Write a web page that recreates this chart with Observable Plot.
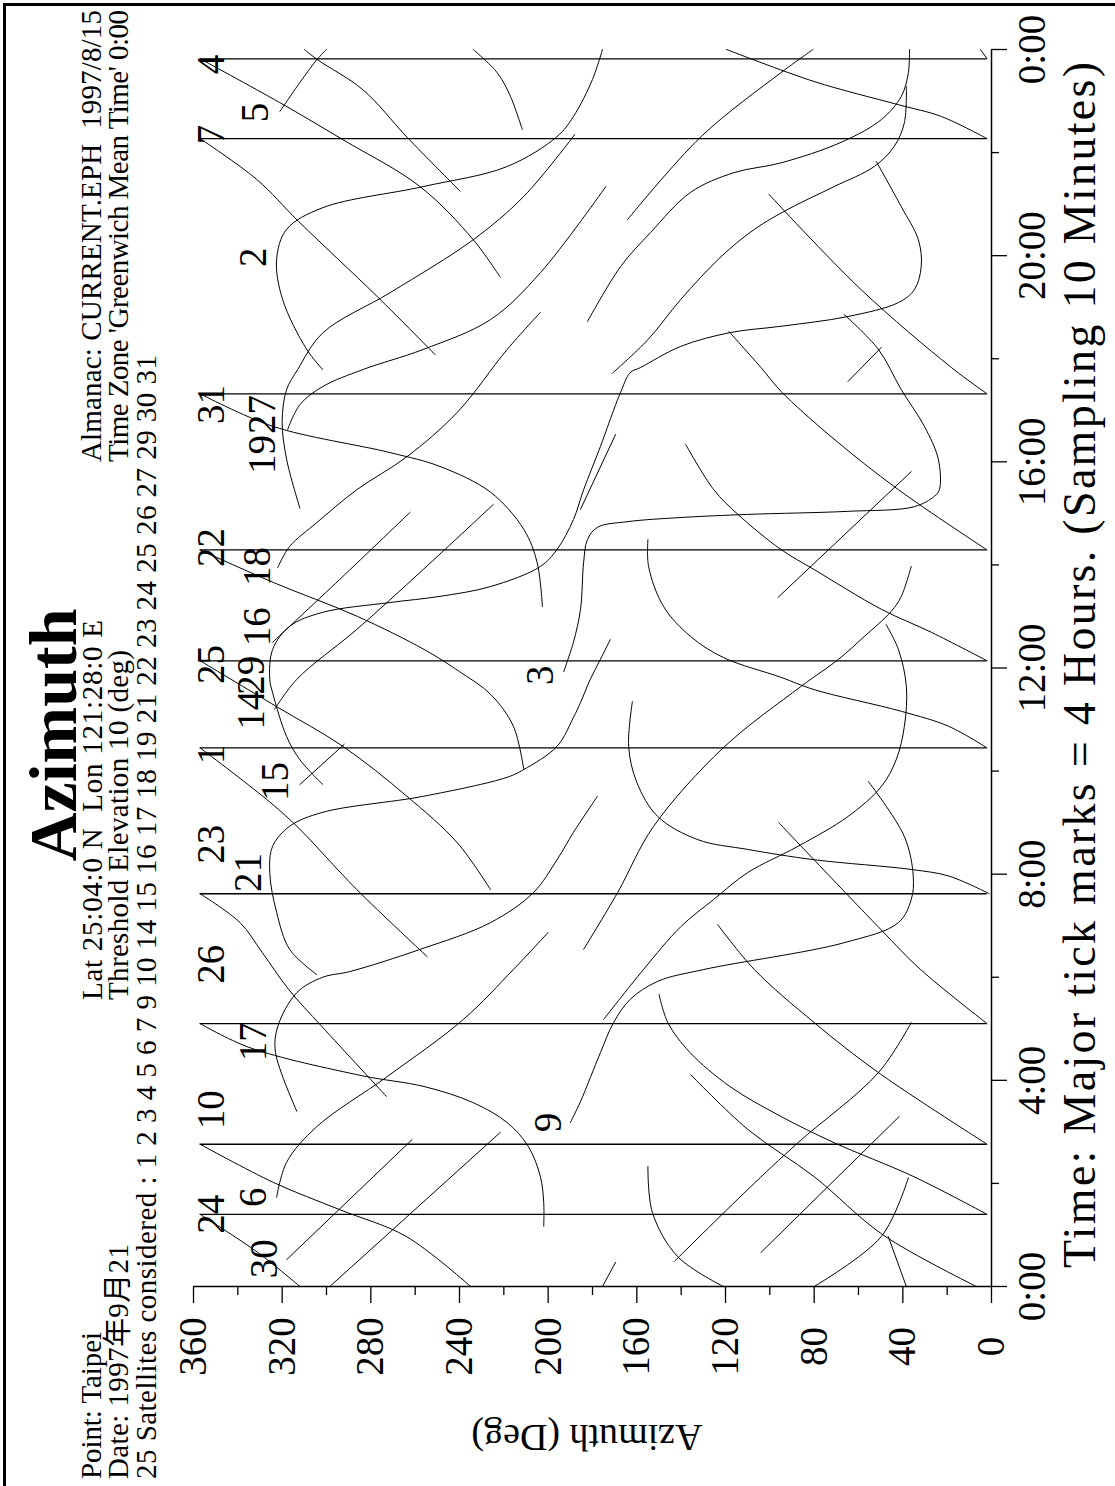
<!DOCTYPE html>
<html><head><meta charset="utf-8">
<script src="https://cdn.jsdelivr.net/npm/d3@7"></script>
<script src="https://cdn.jsdelivr.net/npm/@observablehq/plot@0.6"></script>
<style>
html,body{margin:0;padding:0;background:#fff;}
#page{position:relative;width:1115px;height:1486px;overflow:hidden;background:#fff;}
#land{position:absolute;left:0;top:0;width:1486px;height:1115px;transform-origin:0 0;transform:translate(0px,1486px) rotate(-90deg);}
#land svg{position:absolute;left:0;top:0;}
.bl{position:absolute;background:#000;}
</style></head><body>
<div id="page"><div id="land"></div>
<div class="bl" style="left:3px;top:3px;width:3px;height:1483px"></div>
<div class="bl" style="left:3px;top:3px;width:1112px;height:3px"></div>
</div>
<script>
// ---- axis ticks ----
const timeMajor = [0, 4, 8, 12, 16, 20, 24];
const timeMinor = [2, 6, 10, 14, 18, 22];
const azMajor = [0, 40, 80, 120, 160, 200, 240, 280, 320, 360];
const azMinor = [20, 60, 100, 140, 180, 220, 260, 300, 340];

// ---- wrap-around jumps (360 -> 0) ----
const wrapTimes = [1.40, 2.76, 5.10, 7.62, 10.45, 12.14, 14.29, 17.32, 22.27, 23.82];
const wrapAz = [357, 2];

// ---- satellite tracks: [time (h), azimuth (deg)] ----
const sat24a = [[0,312],[0.66,331],[1.40,357]];
const sat24b = [[1.40,2],[2.13,35],[2.79,71],[3.30,95],[3.88,118],[4.54,136],[5.12,146],[5.67,150]];
const sat10a = [[0,235],[0.97,264],[1.49,294],[2.02,324],[2.76,357]];
const sat10b = [[2.76,2],[4.15,51],[5.12,80],[6.15,107],[7.02,123.5]];
const sat26a = [[1.17,202],[1.63,202],[2.13,203.5],[2.72,209],[3.18,218.5],[3.57,234],[3.88,256],[4.09,284],[4.64,335],[5.10,357]];
const sat26b = [[5.10,2],[6.15,32],[6.93,50],[9.0,96]];
const sat23a = [[3.69,273],[5.04,302],[5.76,317],[6.48,329],[7.06,339],[7.62,357]];
const sat23b = [[7.62,1],[7.96,19],[8.09,36],[8.28,80],[8.48,110],[8.67,132.5],[9.12,150.6],[9.78,160],[10.48,163.7],[11.35,162]];
const sat1a = [[6.4,254.6],[7.7,286.3],[8.93,313.4],[9.45,327],[10.45,357]];
const sat1b = [[10.45,2],[10.87,19.4],[11.16,40.7],[11.58,80],[11.82,95],[12.2,120.8],[12.61,135.7],[13.19,147.9],[13.97,154.7],[14.49,155]];
const sat25a = [[7.7,226],[8.61,241],[9.51,263.7],[10.48,292.6],[11.25,322.5],[12.14,357]];
const sat25b = [[12.14,2],[12.69,27],[13.14,49.7],[13.91,80],[14.3,95],[14.98,114.4],[15.46,125.3],[16.34,138]];
const sat22a = [[10.03,211],[10.87,215.7],[11.49,226],[11.93,240],[12.36,256],[13.0,286],[13.66,324],[14.29,357]];
const sat22b = [[14.29,2],[15.46,42],[16.49,72.4],[17.37,95],[17.83,104],[18.53,118.5]];
const sat31a = [[13.19,202.6],[14.05,205],[14.69,211],[15.41,226],[15.91,248.8],[16.18,271.4],[16.69,324.3],[17.32,357]];
const sat31b = [[17.32,2],[17.83,18.1],[19.34,58.8],[21.19,100.4]];
const sat7a = [[18.08,251],[19.21,277.2],[20.66,312.5],[21.48,331.5],[22.27,357]];
const sat7b = [[22.27,2],[22.70,22.6],[22.93,42.1],[23.38,80.1],[24.0,119.5]];
const sat4a = [[19.58,221.6],[20.31,233.8],[21.34,257.8],[22.25,292.6],[22.97,321.1],[23.82,357]];
const sat4b = [[23.82,2],[24.0,5]];

const sat5 = [[22.8,321],[23.36,312],[23.8,304.4],[24.0,300]];
const trackA = [[21.25,239.7],[22.3,263.7],[23.22,283.6],[23.8,304],[24.0,310]];
const trackB = [[22.45,211.7],[23.09,217],[23.55,223],[24.0,233.8]];
const sat2 = [[17.79,301.7],[18.18,308.9],[19.15,319.8],[19.93,322.5],[20.51,318],[20.93,301.7],[21.34,256.4],[21.73,218.5],[22.31,196],[22.7,188.6],[23.42,180],[24.0,175.5]];
const sat19 = [[15.1,312],[16.05,318],[16.78,320],[17.4,318],[17.79,313],[18.5,301.7],[19.29,271],[20.31,233.8],[21.15,211],[22.35,188]];
const sat27 = [[16.63,317.5],[17.11,312],[17.46,301.7],[17.79,283.6],[18.18,256.4],[18.76,226],[19.67,203.5],[21.34,174]];
const trackC = [[18.72,182.3],[19.79,167.3],[20.45,153.8],[21.23,135.7],[21.61,116.2],[21.8,95],[22.2,67.8],[22.64,49.7],[23.09,40.7],[23.55,37.5],[24.0,37]];
const trackD = [[20.7,164.2],[22.31,131],[23.55,95],[24.0,80.5]];
const trackE = [[17.72,171],[18.37,155],[19.15,140.2],[19.98,122],[20.51,107],[20.9,91.8],[21.34,71],[21.73,52.9],[22.12,43.9],[22.58,39.3],[23.28,38.4]];
const sat16 = [[9.74,301.7],[10.22,312],[10.67,318],[11.52,324.3],[11.78,325.6],[12.36,324.3],[12.81,316.6],[13.08,301.7],[13.27,271.4],[13.39,248.8],[13.58,226],[13.97,203.5],[14.3,196],[14.88,188.6],[15.46,184],[16.3,176.4],[17.0,170.5],[17.35,167.3],[17.73,163],[17.83,158.3],[18.24,140.2],[18.51,117.6],[18.63,95],[18.82,64.7],[19.09,42],[19.34,34.8],[19.79,31.7],[20.31,33],[20.95,40.7],[21.83,52]];
const trackF = [[15.08,185.4],[16.53,169.6]];
const sat3 = [[11.93,193],[12.5,188.6],[13.14,185.4],[14.05,184],[14.49,182.3],[14.73,177.7],[14.84,164],[14.92,140],[14.98,110],[15.04,64.7],[15.13,34.8],[15.33,25.8],[15.46,23.5],[16.05,24],[16.69,30.3],[17.4,40.7],[18.18,51],[18.86,66.5]];
const trackG = [[17.56,64.7],[18.22,49.7]];
const trackH = [[13.37,96.3],[15.81,36.2]];
const trackI = [[6.54,184],[7.64,168.7],[8.93,152.4],[10.46,120.8],[11.64,86],[12.17,69],[12.61,57.4],[13.1,45.2],[13.39,40.7],[13.97,36.2]];
const trackJ = [[5.18,175],[6.15,157],[6.98,140.2],[7.51,125.3],[8.03,110],[8.54,87.3],[9.12,64.7],[9.7,49.7],[10.22,43],[10.87,39.3],[11.64,38.4],[12.36,42],[12.84,47.5]];
const sat21 = [[6.05,304.4],[6.54,316.6],[7.26,322.5],[8.03,325.6],[8.54,324.3],[8.93,316.6],[9.2,301.7],[9.51,256.4],[9.88,218.5],[10.03,211],[10.48,196],[11.04,188.6],[11.33,185.4],[11.78,181],[12.17,176.4],[12.55,172]];
const sat17 = [[3.4,313.4],[4.54,323],[5.04,322],[5.7,313.4],[6.0,301.7],[6.11,289.5],[6.54,257.8],[7.06,226],[7.64,206.7],[8.28,196],[8.81,188.6],[9.51,177.8]];
const sat9 = [[3.18,190],[3.59,185.4],[4.54,176.4],[5.12,170.5],[5.57,163],[5.92,150.6],[6.15,129.8],[6.67,66.5],[7.06,42],[7.51,36.2],[7.96,35.3],[8.73,39.3],[9.8,55.6]];
const sat6 = [[1.73,322.5],[2.41,318],[3.1,304.4],[4.07,272.7],[5.18,238.3],[6.15,215.7],[6.87,200]];
const sat15 = [[9.74,312],[10.52,292]];
const sat14 = [[12.5,324.3],[13.72,294],[15.02,262.3]];
const sat29 = [[11.2,323.4],[11.78,313.4],[12.75,286.3],[13.91,256.4],[15.17,224.8]];
const sat18 = [[13.95,322],[14.36,316.6],[14.82,304.4],[15.46,286.3],[16.1,263.7],[16.96,241],[18.18,218.5],[18.9,203.5]];
const trackK = [[0,6.8],[1.0,48.9],[2.13,80],[3.05,110],[4.11,135.7]];
const trackL = [[0.66,104],[3.3,41.6]];
const trackM = [[0.49,143],[1.88,110],[2.79,87.3],[4.15,51],[5.12,36.2]];
const trackN = [[0,121],[0.58,141.6],[1.44,153],[2.33,155]];
const trackO = [[0,80],[0.97,49.7],[2.11,37.5]];
const trackP = [[0,38.4],[0.97,46.6]];
const trackQ = [[0,175.5],[0.47,169.6]];
const sat30 = [[0.52,318],[2.85,261.4]];
const trackR = [[0,298.5],[2.99,221.6]];

// ---- satellite number labels ----
const labelIds = ["30","24","6","10","9","17","26","23","21","15","1","14","29","25","3","16","18","22","19","27","31","2","7","5","4"];
const labelT  = [0.54,1.40,1.73,3.43,3.18,4.75,6.25,8.58,8.03,9.80,10.32,11.18,11.86,12.07,11.86,12.80,13.97,14.34,16.14,16.92,17.11,19.97,22.35,22.78,23.71];
const labelAz = [328,352,333,352,200,333,352,352,335,323,352,334,334,352,203.5,331,331,352,329,329,352,333,352,332,352];

const tracks = {sat24a,sat24b,sat10a,sat10b,sat26a,sat26b,sat23a,sat23b,sat1a,sat1b,sat25a,sat25b,sat22a,sat22b,sat31a,sat31b,sat7a,sat7b,sat4a,sat4b,
  sat5,trackA,trackB,sat2,sat19,sat27,trackC,trackD,trackE,sat16,trackF,sat3,trackG,trackH,trackI,trackJ,sat21,sat17,sat9,sat6,sat15,sat14,sat29,sat18,
  trackK,trackL,trackM,trackN,trackO,trackP,trackQ,sat30,trackR};
const pts = [];
for (const [id, arr] of Object.entries(tracks)) for (const [t, az] of arr) pts.push({id, t, az});
const labels = labelIds.map((id, i) => ({id, t: labelT[i], az: labelAz[i]}));

const serif = "'Liberation Serif', 'Times New Roman', 'Noto Sans CJK SC', serif";
const fmtTime = d => `${d % 24}:00`;

const plot = Plot.plot({
  width: 1486, height: 1115,
  marginLeft: 199, marginRight: 50, marginTop: 193, marginBottom: 124,
  x: {domain: [0, 24], axis: null},
  y: {domain: [0, 360], axis: null},
  style: {fontFamily: serif, background: "transparent", overflow: "visible", color: "#000"},
  marks: [
    Plot.ruleY([0], {stroke: "#000", strokeWidth: 1.5}),
    Plot.ruleX([0], {stroke: "#000", strokeWidth: 1.5}),
    Plot.ruleX(timeMajor, {x: d => d, y1: () => 0, y2: () => 0, insetBottom: -16, stroke: "#000", strokeWidth: 1.3}),
    Plot.ruleX(timeMinor, {x: d => d, y1: () => 0, y2: () => 0, insetBottom: -8, stroke: "#000", strokeWidth: 1.3}),
    Plot.ruleY(azMajor, {y: d => d, x1: () => 0, x2: () => 0, insetLeft: -16, stroke: "#000", strokeWidth: 1.3}),
    Plot.ruleY(azMinor, {y: d => d, x1: () => 0, x2: () => 0, insetLeft: -8, stroke: "#000", strokeWidth: 1.3}),
    Plot.text(timeMajor, {x: d => d, y: () => 0, text: fmtTime, dy: 41, fontSize: 39, fontFamily: serif, fill: "#000"}),
    Plot.text(azMajor, {x: () => 0, y: d => d, text: d => String(d), dx: -60, textAnchor: "middle", fontSize: 39, fontFamily: serif, fill: "#000"}),
    Plot.ruleX(wrapTimes, {x: d => d, y1: () => wrapAz[0], y2: () => wrapAz[1], stroke: "#000", strokeWidth: 1.3}),
    Plot.line(pts, {x: "t", y: "az", z: "id", curve: "catmull-rom", stroke: "#000", strokeWidth: 1}),
    Plot.text(labels, {x: "t", y: "az", text: "id", fontSize: 39, fontFamily: serif, fill: "#000"})
  ]
});
const land = document.getElementById("land");
land.appendChild(plot);

// ---- header / footer texts (landscape coordinates) ----
const texts = [
  {s: "Azimuth", x: 751, y: 76, size: 68, weight: "bold", anchor: "middle"},
  {s: "Point: Taipei", x: 7, y: 101, size: 29, len: 147},
  {s: "Date: 1997年9月21", x: 7, y: 128, size: 29, len: 235},
  {s: "25 Satellites considered : 1 2 3 4 5 6 7 9 10 14 15 16 17 18 19 21 22 23 24 25 26 27 29 30 31", x: 7, y: 156, size: 29, len: 1124},
  {s: "Lat 25:04:0 N  Lon 121:28:0 E", x: 486, y: 102, size: 29, len: 380},
  {s: "Threshold Elevation 10 (deg)", x: 486, y: 128, size: 29, len: 350},
  {s: "Almanac: CURRENT.EPH  1997/8/15", x: 1024, y: 101, size: 29, len: 452},
  {s: "Time Zone 'Greenwich Mean Time' 0:00", x: 1024, y: 128, size: 29, len: 452},
  {s: "Time: Major tick marks = 4 Hours. (Sampling 10 Minutes)", x: 218, y: 1095, size: 46, len: 1206}
];
const svg = d3.select(land).append("svg").attr("width", 1486).attr("height", 1115)
  .style("font-family", serif).style("pointer-events", "none");
const tx = svg.selectAll("text.h").data(texts).join("text").attr("class", "h")
  .attr("x", d => d.x).attr("y", d => d.y)
  .attr("font-size", d => d.size).attr("font-weight", d => d.weight || "normal")
  .attr("text-anchor", d => d.anchor || "start")
  .attr("xml:space", "preserve").style("white-space", "pre").attr("fill", "#000")
  .text(d => d.s);
tx.filter(d => d.len).attr("textLength", d => d.len).attr("lengthAdjust", "spacing");
svg.append("text").attr("transform", "translate(61,587) rotate(-90)")
  .attr("text-anchor", "middle").attr("font-size", 38).attr("fill", "#000")
  .text("Azimuth (Deg)");
</script>
</body></html>
